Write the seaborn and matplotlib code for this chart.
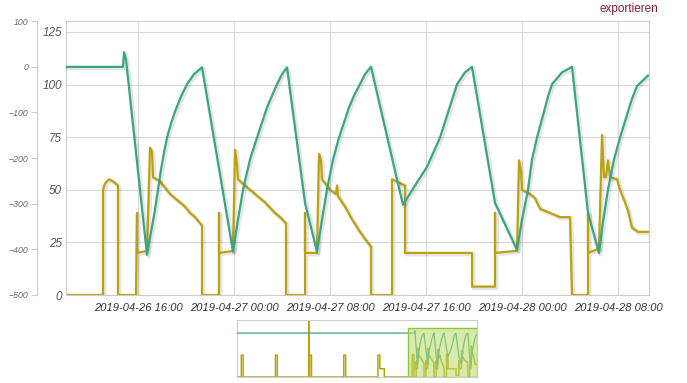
import matplotlib
matplotlib.use('Agg')
import numpy as np
import pandas as pd
import seaborn as sns
import matplotlib.pyplot as plt
import matplotlib.dates as mdates
import matplotlib.patheffects as pe
from matplotlib.patches import Rectangle
from matplotlib.transforms import blended_transform_factory

# green series (outer axis, -500..100)
green_time = [
    '2019-04-26 10:00', '2019-04-26 14:45', '2019-04-26 14:50', '2019-04-26 15:00',
    '2019-04-26 16:45', '2019-04-26 17:05', '2019-04-26 17:25', '2019-04-26 17:40',
    '2019-04-26 17:55', '2019-04-26 18:10', '2019-04-26 18:25', '2019-04-26 18:45',
    '2019-04-26 19:05', '2019-04-26 19:35', '2019-04-26 20:05', '2019-04-26 20:40',
    '2019-04-26 21:20',
    '2019-04-26 23:55', '2019-04-27 00:20', '2019-04-27 00:45', '2019-04-27 01:20',
    '2019-04-27 01:55', '2019-04-27 02:45', '2019-04-27 03:10', '2019-04-27 03:35',
    '2019-04-27 04:00', '2019-04-27 04:25',
    '2019-04-27 05:55', '2019-04-27 06:55', '2019-04-27 07:20', '2019-04-27 07:45',
    '2019-04-27 08:15', '2019-04-27 08:45', '2019-04-27 09:35', '2019-04-27 10:00',
    '2019-04-27 10:30', '2019-04-27 10:55', '2019-04-27 11:25',
    '2019-04-27 13:35', '2019-04-27 14:05', '2019-04-27 15:05', '2019-04-27 16:05',
    '2019-04-27 17:10', '2019-04-27 18:35', '2019-04-27 19:15', '2019-04-27 19:50',
    '2019-04-27 21:45', '2019-04-27 23:35', '2019-04-28 00:00', '2019-04-28 00:30',
    '2019-04-28 00:50', '2019-04-28 01:15', '2019-04-28 01:50', '2019-04-28 02:10',
    '2019-04-28 02:30', '2019-04-28 03:20', '2019-04-28 04:10',
    '2019-04-28 05:30', '2019-04-28 06:25', '2019-04-28 06:45', '2019-04-28 07:10',
    '2019-04-28 07:40', '2019-04-28 08:10', '2019-04-28 08:50', '2019-04-28 09:10',
    '2019-04-28 09:35', '2019-04-28 10:30',
]
green_value = [
    0, 0, 32, 16,
    -412, -362, -313, -269,
    -225, -188, -155, -124,
    -98, -65, -38, -16,
    -1,
    -405, -335, -269, -203,
    -155, -89, -63, -38,
    -16, -1,
    -298, -405, -335, -269,
    -203, -155, -89, -63,
    -38, -16, 0,
    -247, -302, -260, -219,
    -155, -38, -12, 0,
    -298, -401, -335, -269,
    -203, -155, -98, -65,
    -38, -12, 0,
    -320, -408, -339, -269,
    -203, -155, -98, -70,
    -42, -19,
]

# gold series (inner axis, 0..125)
gold_time = [
    '2019-04-26 10:00', '2019-04-26 13:05', '2019-04-26 13:05', '2019-04-26 13:15',
    '2019-04-26 13:35', '2019-04-26 13:55', '2019-04-26 14:20', '2019-04-26 14:20',
    '2019-04-26 15:50', '2019-04-26 15:55', '2019-04-26 15:55', '2019-04-26 16:45',
    '2019-04-26 17:00', '2019-04-26 17:10', '2019-04-26 17:15', '2019-04-26 17:50',
    '2019-04-26 18:15', '2019-04-26 18:40', '2019-04-26 19:05', '2019-04-26 19:30',
    '2019-04-26 19:55', '2019-04-26 20:20', '2019-04-26 20:45', '2019-04-26 21:20',
    '2019-04-26 21:20',
    '2019-04-26 22:45', '2019-04-26 22:45', '2019-04-26 22:45', '2019-04-26 23:55',
    '2019-04-27 00:05', '2019-04-27 00:15', '2019-04-27 00:20', '2019-04-27 00:55',
    '2019-04-27 01:45', '2019-04-27 02:35', '2019-04-27 03:25', '2019-04-27 03:50',
    '2019-04-27 04:20', '2019-04-27 04:20',
    '2019-04-27 05:55', '2019-04-27 05:55', '2019-04-27 05:55', '2019-04-27 06:55',
    '2019-04-27 07:05', '2019-04-27 07:15', '2019-04-27 07:20', '2019-04-27 08:00',
    '2019-04-27 08:30', '2019-04-27 08:35', '2019-04-27 08:40', '2019-04-27 09:15',
    '2019-04-27 09:50', '2019-04-27 10:30', '2019-04-27 11:00', '2019-04-27 11:25',
    '2019-04-27 11:25',
    '2019-04-27 13:10', '2019-04-27 13:10', '2019-04-27 14:15', '2019-04-27 14:15',
    '2019-04-27 19:50', '2019-04-27 19:50', '2019-04-27 21:45', '2019-04-27 21:45',
    '2019-04-27 21:45', '2019-04-27 23:35', '2019-04-27 23:45', '2019-04-27 23:55',
    '2019-04-28 00:00', '2019-04-28 00:40', '2019-04-28 01:05', '2019-04-28 01:30',
    '2019-04-28 02:20', '2019-04-28 02:45', '2019-04-28 03:10', '2019-04-28 04:00',
    '2019-04-28 04:10',
    '2019-04-28 05:30', '2019-04-28 05:30', '2019-04-28 05:30', '2019-04-28 06:25',
    '2019-04-28 06:40', '2019-04-28 06:50', '2019-04-28 07:00', '2019-04-28 07:10',
    '2019-04-28 07:20', '2019-04-28 07:55', '2019-04-28 08:10', '2019-04-28 08:35',
    '2019-04-28 08:50', '2019-04-28 09:10', '2019-04-28 09:40', '2019-04-28 10:30',
]
gold_value = [
    0, 0, 50, 53,
    55, 54, 52, 0,
    0, 39, 20, 21,
    70, 68, 56, 54,
    51, 48, 46, 44,
    42, 39, 37, 33,
    0,
    0, 39, 20, 21,
    69, 62, 55, 52,
    48, 44, 39, 37,
    34, 0,
    0, 39, 20, 20,
    67, 64, 55, 50,
    48, 52, 47, 42,
    36, 30, 26, 23,
    0,
    0, 55, 52, 20,
    20, 4, 4, 39,
    20, 21, 64, 59,
    50, 48, 46, 41,
    39, 38, 37, 37,
    0,
    0, 39, 20, 22,
    76, 56, 56, 64,
    56, 55, 50, 44,
    40, 32, 30, 30,
]

# earlier days, only visible in the navigator
hist_gold_time = [
    '2019-04-21 10:00',
    '2019-04-21 13:00', '2019-04-21 13:00', '2019-04-21 14:20', '2019-04-21 14:20',
    '2019-04-22 13:00', '2019-04-22 13:00', '2019-04-22 14:20', '2019-04-22 14:20',
    '2019-04-23 12:20', '2019-04-23 12:30', '2019-04-23 12:40',
    '2019-04-23 13:00', '2019-04-23 13:00', '2019-04-23 14:20', '2019-04-23 14:20',
    '2019-04-24 13:00', '2019-04-24 13:00', '2019-04-24 14:20', '2019-04-24 14:20',
    '2019-04-25 13:00', '2019-04-25 13:00', '2019-04-25 14:20', '2019-04-25 14:20',
    '2019-04-25 17:30', '2019-04-25 17:30',
]
hist_gold_value = [
    0,
    0, 53, 53, 0,
    0, 53, 53, 0,
    0, 135, 0,
    0, 53, 53, 0,
    0, 53, 53, 0,
    0, 53, 53, 20,
    20, 0,
]
hist_green_time = ['2019-04-21 10:00']
hist_green_value = [0]

GREEN = '#3aa585'
GOLD = '#bba20c'

plt.rcParams['font.family'] = ['Liberation Sans', 'DejaVu Sans']

fig = plt.figure(figsize=(6.87, 3.83), dpi=100)
fig.patch.set_facecolor('white')

ax = fig.add_axes([66 / 687, 1 - 295 / 383, 583 / 687, 274 / 383])
ax2 = ax.twinx()

shadow = [pe.SimpleLineShadow(offset=(1, -1), alpha=0.1, shadow_color='black', linewidth=3), pe.Normal()]

gt = pd.to_datetime(gold_time)
sns.lineplot(x=gt, y=gold_value, ax=ax, estimator=None, sort=False,
             color=GOLD, lw=1.6, path_effects=shadow)
grt = pd.to_datetime(green_time)
sns.lineplot(x=grt, y=green_value, ax=ax2, estimator=None, sort=False,
             color=GREEN, lw=1.6, path_effects=shadow)

ax.set_xlim(pd.Timestamp('2019-04-26 10:00'), pd.Timestamp('2019-04-28 10:35'))
ax.set_ylim(0, 130.2)
ax.set_yticks([0, 25, 50, 75, 100, 125])
ax2.set_ylim(-500, 100.5)
ax2.set_yticks([-500, -400, -300, -200, -100, 0, 100])

ax.xaxis.set_major_locator(mdates.HourLocator(byhour=[0, 8, 16]))
ax.xaxis.set_major_formatter(mdates.DateFormatter('%Y-%m-%d %H:%M'))

ax.grid(True, color='#d8d8d8', lw=0.8)
ax.set_axisbelow(True)
for s in ax.spines.values():
    s.set_color('#cccccc')
    s.set_linewidth(0.8)
ax.tick_params(axis='x', length=0, pad=6, labelsize=8, labelcolor='#333333')
ax.tick_params(axis='y', length=0, pad=3, labelsize=8.5, labelcolor='#555555')
for lab in ax.get_xticklabels() + ax.get_yticklabels():
    lab.set_fontstyle('italic')
ax.set_xlabel('')
ax.set_ylabel('')

# outer axis moved out to the left
for name in ['top', 'right', 'bottom']:
    ax2.spines[name].set_visible(False)
ax2.spines['left'].set_visible(True)
ax2.spines['left'].set_position(('axes', -29 / 583))
ax2.spines['left'].set_color('#cccccc')
ax2.spines['left'].set_linewidth(0.8)
ax2.yaxis.set_ticks_position('left')
ax2.yaxis.set_label_position('left')
ax2.tick_params(axis='y', direction='out', length=4, width=0.8, color='#cccccc',
                pad=2, labelsize=6.3, labelcolor='#666666')
for lab in ax2.get_yticklabels():
    lab.set_fontstyle('italic')
ax2.set_ylabel('')

fig.text(658 / 687, 1 - 9 / 383, 'exportieren', ha='right', va='center',
         fontsize=8.5, color='#8b1a2e')

# navigator
nav = fig.add_axes([237 / 687, 1 - 377 / 383, 240 / 687, 57 / 383])
nav2 = nav.twinx()
nav_gold_t = pd.to_datetime(hist_gold_time + gold_time)
nav_gold_v = hist_gold_value + gold_value
nav_green_t = pd.to_datetime(hist_green_time + green_time)
nav_green_v = hist_green_value + green_value
sns.lineplot(x=nav_gold_t, y=nav_gold_v, ax=nav, estimator=None, sort=False,
             color=GOLD, lw=1.1)
sns.lineplot(x=nav_green_t, y=nav_green_v, ax=nav2, estimator=None, sort=False,
             color=GREEN, lw=0.9)
nav_start = pd.Timestamp('2019-04-21 10:00')
nav_end = pd.Timestamp('2019-04-28 10:35')
nav.set_xlim(nav_start, nav_end)
nav.set_ylim(0, 138)
nav2.set_ylim(-570, 170)
for a in (nav, nav2):
    a.set_xticks([])
    a.set_yticks([])
    a.set_xlabel('')
    a.set_ylabel('')
for s in nav.spines.values():
    s.set_color('#cccccc')
    s.set_linewidth(0.8)
for s in nav2.spines.values():
    s.set_visible(False)

x0 = mdates.date2num(pd.Timestamp('2019-04-26 10:00'))
x1 = mdates.date2num(nav_end)
trans = blended_transform_factory(nav2.transData, nav2.transAxes)
nav2.add_patch(Rectangle((x0, 0), x1 - x0, 0.86, transform=trans,
                         facecolor='#b8dc6a', alpha=0.55, edgecolor='none', zorder=5))
nav2.add_patch(Rectangle((x0, 0), x1 - x0, 0.86, transform=trans,
                         facecolor='none', edgecolor='#8cc63f', lw=1, zorder=6))

fig.savefig('out.png', dpi=100)
